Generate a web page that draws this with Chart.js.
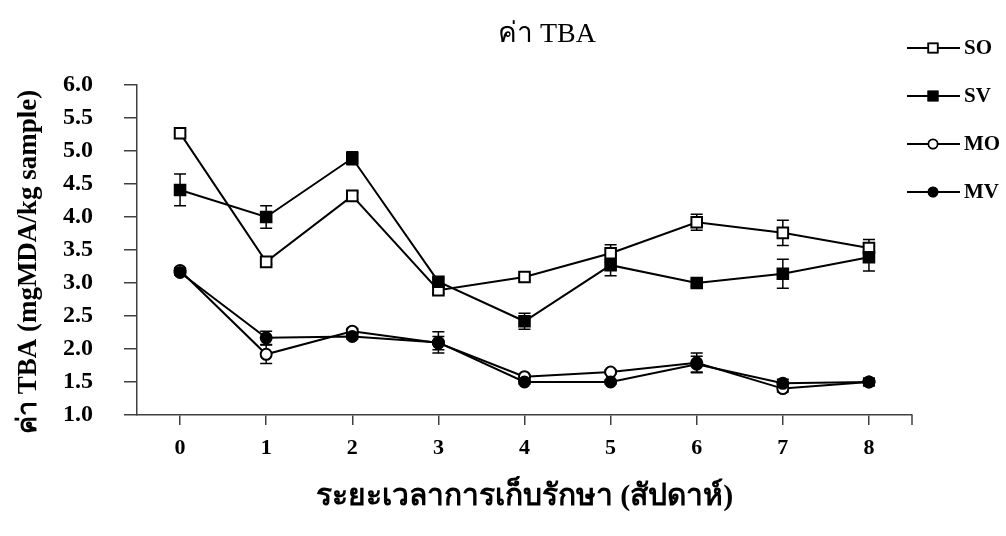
<!DOCTYPE html>
<html>
<head>
<meta charset="utf-8">
<script src="https://cdn.jsdelivr.net/npm/chart.js@4/dist/chart.umd.min.js"></script>
<style>
  html, body { margin: 0; padding: 0; background: #fff; }
  #wrap { width: 1006px; height: 536px; }
</style>
</head>
<body>
<div id="wrap"><canvas id="c" width="1006" height="536"></canvas></div>
<script>
// Storage time in weeks
const weeks = ['0', '1', '2', '3', '4', '5', '6', '7', '8'];

// TBA values (mgMDA/kg sample)
const soValues = [5.27, 3.32, 4.32, 2.89, 3.09, 3.45, 3.92, 3.76, 3.53];
const svValues = [4.41, 4.00, 4.89, 3.02, 2.42, 3.27, 3.00, 3.14, 3.39];
const moValues = [3.19, 1.92, 2.27, 2.09, 1.58, 1.65, 1.79, 1.40, 1.50];
const mvValues = [3.16, 2.17, 2.19, 2.10, 1.50, 1.50, 1.77, 1.48, 1.50];

// Standard deviations
const soErrors = [0.04, 0.04, 0.05, 0.05, 0.04, 0.13, 0.12, 0.19, 0.13];
const svErrors = [0.24, 0.17, 0.10, 0.05, 0.12, 0.16, 0.05, 0.22, 0.21];
const moErrors = [0.04, 0.14, 0.04, 0.10, 0.03, 0.03, 0.15, 0.05, 0.05];
const mvErrors = [0.04, 0.10, 0.04, 0.16, 0.03, 0.03, 0.12, 0.06, 0.06];

const yTicks = [1.0, 1.5, 2.0, 2.5, 3.0, 3.5, 4.0, 4.5, 5.0, 5.5, 6.0];

const chartTitle = 'ค่า TBA';
const xTitle = 'ระยะเวลาการเก็บรักษา (สัปดาห์)';
const yTitle = 'ค่า TBA (mgMDA/kg sample)';

const SERIF = "'Liberation Serif', 'Times New Roman', 'DejaVu Serif', serif";
const AXIS = '#404040';

function series(label, data, errors, style, fill, radius, order) {
  return {
    label, data, errors, order,
    borderColor: '#000', borderWidth: 2, tension: 0,
    pointStyle: style, pointRadius: radius, pointHoverRadius: radius,
    pointBackgroundColor: fill, pointBorderColor: '#000', pointBorderWidth: 2,
    fill: false
  };
}

// Vertical error bars with caps, drawn under the markers
const errorBars = {
  id: 'errorBars',
  beforeDatasetsDraw(chart) {
    const { ctx } = chart;
    const y = chart.scales.y;
    ctx.save();
    ctx.strokeStyle = '#000';
    ctx.lineWidth = 1.5;
    chart.data.datasets.forEach((ds, i) => {
      const meta = chart.getDatasetMeta(i);
      meta.data.forEach((pt, j) => {
        const e = ds.errors[j];
        if (!e) return;
        const top = y.getPixelForValue(ds.data[j] + e);
        const bot = y.getPixelForValue(ds.data[j] - e);
        ctx.beginPath();
        ctx.moveTo(pt.x, top); ctx.lineTo(pt.x, bot);
        ctx.moveTo(pt.x - 6, top); ctx.lineTo(pt.x + 6, top);
        ctx.moveTo(pt.x - 6, bot); ctx.lineTo(pt.x + 6, bot);
        ctx.stroke();
      });
    });
    ctx.restore();
  }
};

// Chart title, vertical axis title and line-with-marker legend
const decorations = {
  id: 'decorations',
  afterDraw(chart) {
    const { ctx } = chart;
    ctx.save();
    ctx.fillStyle = '#000';
    ctx.font = '28px ' + SERIF;
    ctx.textAlign = 'center';
    ctx.textBaseline = 'middle';
    ctx.fillText(chartTitle, 547, 35);

    ctx.save();
    ctx.translate(29, 262);
    ctx.rotate(-Math.PI / 2);
    ctx.font = 'bold 27px ' + SERIF;
    ctx.fillText(yTitle, 0, 0);
    ctx.restore();

    chart.data.datasets.forEach((ds, i) => {
      const cy = 48 + i * 48;
      ctx.strokeStyle = '#000';
      ctx.lineWidth = 2;
      ctx.beginPath();
      ctx.moveTo(907, cy); ctx.lineTo(960, cy);
      ctx.stroke();
      Chart.helpers.drawPoint(ctx, {
        pointStyle: ds.pointStyle, radius: ds.pointStyle === 'rect' ? 6.5 : 4.5,
        borderWidth: 1.5
      }, 933, cy);
      ctx.fillStyle = ds.pointBackgroundColor;
      ctx.strokeStyle = '#000';
      ctx.lineWidth = 1.5;
      ctx.fill();
      ctx.stroke();
      ctx.fillStyle = '#000';
      ctx.font = 'bold 21px ' + SERIF;
      ctx.textAlign = 'left';
      ctx.fillText(ds.label, 964, cy + 1);
    });
    ctx.restore();
  }
};

// Tick mark closing the right end of the category axis
const axisEndTick = {
  id: 'axisEndTick',
  afterDraw(chart) {
    const { ctx, chartArea } = chart;
    ctx.save();
    ctx.strokeStyle = AXIS;
    ctx.lineWidth = 1.5;
    ctx.beginPath();
    ctx.moveTo(chartArea.right, chartArea.bottom);
    ctx.lineTo(chartArea.right, chartArea.bottom + 10);
    ctx.stroke();
    ctx.restore();
  }
};

new Chart(document.getElementById('c'), {
  type: 'line',
  data: {
    labels: weeks,
    datasets: [
      series('SO', soValues, soErrors, 'rect', '#fff', 7.5, 4),
      series('SV', svValues, svErrors, 'rect', '#000', 7.5, 2),
      series('MO', moValues, moErrors, 'circle', '#fff', 5.5, 3),
      series('MV', mvValues, mvErrors, 'circle', '#000', 5.5, 1)
    ]
  },
  options: {
    responsive: false,
    animation: false,
    layout: { padding: { top: 85, right: 94, left: 0, bottom: 0 } },
    plugins: {
      legend: { display: false },
      title: { display: false },
      tooltip: { enabled: false }
    },
    scales: {
      x: {
        type: 'category',
        offset: true,
        afterFit(scale) { scale.height = 121; },
        grid: { display: true, drawOnChartArea: false, offset: false, tickLength: 10, color: AXIS, lineWidth: 1.5 },
        border: { color: AXIS, width: 1.5 },
        ticks: { color: '#000', padding: 10, font: { family: SERIF, size: 22, weight: 'bold' } },
        title: { display: true, text: xTitle, color: '#000', padding: { top: 0, bottom: 21 },
                 font: { family: SERIF, size: 30, weight: 'bold' } }
      },
      y: {
        min: 1, max: 6,
        afterFit(scale) { scale.width = 137; },
        afterBuildTicks(scale) { scale.ticks = yTicks.map(v => ({ value: v })); },
        grid: { display: true, drawOnChartArea: false, tickLength: 13, color: AXIS, lineWidth: 1.5 },
        border: { color: AXIS, width: 1.5 },
        ticks: { color: '#000', padding: 31, font: { family: SERIF, size: 24, weight: 'bold' },
                 callback: v => Number(v).toFixed(1) },
        title: { display: false }
      }
    }
  },
  plugins: [errorBars, decorations, axisEndTick]
});
</script>
</body>
</html>
